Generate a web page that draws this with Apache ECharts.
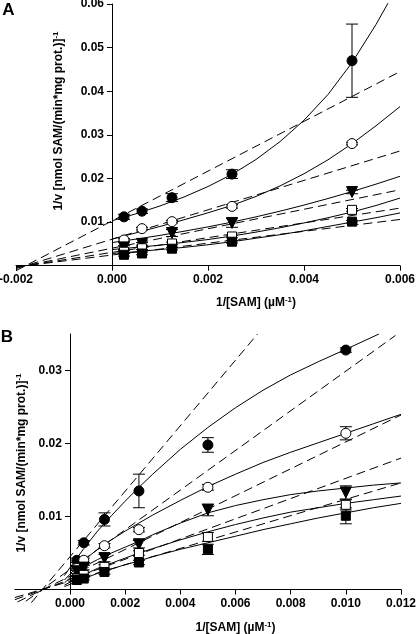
<!DOCTYPE html>
<html><head><meta charset="utf-8">
<script src="https://cdn.jsdelivr.net/npm/echarts@6/dist/echarts.min.js"></script>
<style>html,body{margin:0;padding:0;background:#fff}#c{width:416px;height:634px}</style>
</head><body><div id="c"></div>
<script>
// ---------- Panel A data ----------
const xA = [0.00025, 0.000625, 0.00125, 0.0025, 0.005];
const aFilledCircle = [0.0112, 0.0125, 0.0156, 0.0210, 0.0470];
const aFilledCircleErr = [0.0006, 0.0005, 0.0009, 0.0010, 0.0084];
const aOpenCircle = [0.0059, 0.0085, 0.0101, 0.0136, 0.0280];
const aOpenCircleErr = [0.0003, 0.0003, 0.0003, 0.0004, 0.0003];
const aTriangle = [0.0042, 0.0050, 0.0075, 0.0098, 0.0169];
const aTriangleErr = [0.0004, 0.0003, 0.0008, 0.0010, 0.0004];
const aOpenSquare = [0.0032, 0.0040, 0.0051, 0.0067, 0.0128];
const aOpenSquareErr = [0.0003, 0.0003, 0.0003, 0.0003, 0.0003];
const aFilledSquare = [0.0025, 0.0028, 0.0039, 0.0055, 0.0101];
const aFilledSquareErr = [0.0003, 0.0003, 0.0003, 0.0003, 0.0003];
// fitted curves
const aCurveX = [0, 0.0005, 0.001, 0.0015, 0.002, 0.0025, 0.003, 0.0035, 0.004, 0.0045, 0.005, 0.0055, 0.006];
const aCurveFilledCircleX = [0, 0.0005, 0.001, 0.0015, 0.002, 0.0025, 0.003, 0.0035, 0.004, 0.0045, 0.005, 0.0055, 0.00575];
const aCurveFilledCircle = [0.0103, 0.0119, 0.0137, 0.01575, 0.01815, 0.02095, 0.02435, 0.02845, 0.03335, 0.03925, 0.04655, 0.0553, 0.0602];
const aCurveOpenCircle = [0.0061, 0.00753, 0.0090, 0.01053, 0.01213, 0.01383, 0.01588, 0.01828, 0.02108, 0.02428, 0.02798, 0.03208, 0.03648];
const aCurveTriangle = [0.0053, 0.0061, 0.00695, 0.0079, 0.0089, 0.0100, 0.0112, 0.0125, 0.0139, 0.0154, 0.0170, 0.0187, 0.0205];
const aCurveOpenSquare = [0.0037, 0.0042, 0.0047, 0.00535, 0.0060, 0.0068, 0.0077, 0.0087, 0.0098, 0.0110, 0.0123, 0.0138, 0.0155];
const aCurveFilledSquare = [0.0028, 0.0032, 0.0037, 0.0042, 0.0048, 0.0055, 0.0063, 0.0071, 0.0080, 0.0090, 0.0100, 0.0110, 0.0121];
// dashed straight lines (end points)
const aDash1 = [[-0.002,-0.00114],[0.006,0.0445]];
const aDash2 = [[-0.002,-0.00067],[0.006,0.0263]];
const aDash3 = [[-0.002,-0.00045],[0.006,0.0174]];
const aDash4 = [[-0.002,-0.00034],[0.006,0.0132]];
const aDash5 = [[-0.002,-0.00027],[0.006,0.0106]];
const aXTicks = [-0.002, 0, 0.002, 0.004, 0.006];
const aYTicks = [0.01, 0.02, 0.03, 0.04, 0.05, 0.06];

// ---------- Panel B data ----------
const xB = [0.00025, 0.0005, 0.00125, 0.0025, 0.005, 0.01];
const bFilledCircle = [0.0040, 0.0064, 0.0096, 0.0135, 0.0198, 0.0328];
const bFilledCircleErr = [0.0003, 0.0003, 0.0009, 0.0023, 0.0010, 0.0003];
const bOpenCircle = [0.0029, 0.0040, 0.0060, 0.0082, 0.0140, 0.0214];
const bOpenCircleErr = [0.0003, 0.0003, 0.0003, 0.0003, 0.0004, 0.0009];
const bTriangle = [0.0025, 0.0030, 0.0043, 0.0062, 0.0109, 0.0133];
const bTriangleErr = [0.0003, 0.0003, 0.0005, 0.0005, 0.0008, 0.0009];
const bOpenSquare = [0.0015, 0.0020, 0.0031, 0.0050, 0.0072, 0.0116];
const bOpenSquareErr = [0.0003, 0.0003, 0.0003, 0.0003, 0.0006, 0.0007];
const bFilledSquare = [0.0013, 0.0015, 0.0024, 0.0037, 0.0055, 0.0101];
const bFilledSquareErr = [0.0002, 0.0002, 0.0003, 0.0003, 0.0007, 0.0011];
const bCurveX = [-0.0002, 0, 0.00025, 0.0005, 0.001, 0.0015, 0.002, 0.0025, 0.003, 0.004, 0.005, 0.006, 0.007, 0.008, 0.009, 0.010, 0.011, 0.012];
const bCurveFilledCircleX = [-0.0002, 0, 0.00025, 0.0005, 0.001, 0.0015, 0.002, 0.0025, 0.003, 0.004, 0.005, 0.006, 0.007, 0.008, 0.009, 0.010, 0.0112];
const bCurveFilledCircle = [0.0019, 0.0030, 0.0043, 0.0056, 0.0080, 0.0101, 0.0121, 0.0140, 0.0158, 0.0192, 0.0222, 0.0249, 0.0273, 0.0294, 0.0312, 0.0329, 0.0350];
const bCurveOpenCircle = [0.0013, 0.0021, 0.0031, 0.0040, 0.0055, 0.0068, 0.0080, 0.0091, 0.0102, 0.0122, 0.0141, 0.0158, 0.0174, 0.0188, 0.0201, 0.0214, 0.0227, 0.0240];
const bCurveTriangle = [0.0009, 0.0016, 0.0024, 0.0031, 0.0041, 0.0050, 0.0058, 0.0066, 0.0075, 0.0091, 0.0105, 0.0115, 0.0123, 0.0130, 0.0135, 0.0139, 0.0143, 0.0146];
const bCurveOpenSquare = [0.0006, 0.0010, 0.0015, 0.0020, 0.0029, 0.0036, 0.0043, 0.0050, 0.0056, 0.0068, 0.0079, 0.0089, 0.0098, 0.0106, 0.0112, 0.0118, 0.0123, 0.0128];
const bCurveFilledSquare = [0.0004, 0.0007, 0.0011, 0.0015, 0.0022, 0.0028, 0.0034, 0.0039, 0.0045, 0.0055, 0.0064, 0.0073, 0.0082, 0.0090, 0.0098, 0.0105, 0.0112, 0.0118];
const bDash1 = [[-0.0014,-0.0018],[0.0068,0.0350]];
const bDash2 = [[-0.0016,-0.0016],[0.0118,0.0348]];
const bDash3 = [[-0.0019,-0.0017],[0.012,0.0239]];
const bDash4 = [[-0.002,-0.0014],[0.012,0.0180]];
const bDash5 = [[-0.002,-0.0011],[0.012,0.0146]];
const bXTicks = [0, 0.002, 0.004, 0.006, 0.008, 0.010, 0.012];
const bYTicks = [0.01, 0.02, 0.03];

const FONT = 'Liberation Sans, Arial, sans-serif';
const chart = echarts.init(document.getElementById('c'), null, {renderer: 'canvas'});

const zip = (xs, ys) => xs.map((x, k) => [x, ys[k]]);

function errRender(params, api) {
  const x = api.value(0), y = api.value(1), e = api.value(2);
  const t = api.coord([x, y + e]), b = api.coord([x, y - e]);
  const hw = 6;
  const st = {stroke: '#000', lineWidth: 1};
  return {type: 'group', children: [
    {type: 'line', shape: {x1: t[0], y1: t[1], x2: b[0], y2: b[1]}, style: st},
    {type: 'line', shape: {x1: t[0] - hw, y1: t[1], x2: t[0] + hw, y2: t[1]}, style: st},
    {type: 'line', shape: {x1: b[0] - hw, y1: b[1], x2: b[0] + hw, y2: b[1]}, style: st}
  ]};
}

const markers = [
  {symbol: 'circle', size: 10, fill: '#000', rot: 0},
  {symbol: 'circle', size: 10, fill: '#fff', rot: 0},
  {symbol: 'triangle', size: 11, fill: '#000', rot: 180},
  {symbol: 'rect', size: 9, fill: '#fff', rot: 0},
  {symbol: 'rect', size: 9, fill: '#000', rot: 0}
];

const series = [];
function addPanel(idx, xs, ys, errs, curves, dashes) {
  dashes.forEach(d => series.push({
    type: 'line', xAxisIndex: idx, yAxisIndex: idx, data: d, showSymbol: false, clip: false,
    lineStyle: {color: '#000', width: 1, type: [9, 5]}, z: 2, silent: true
  }));
  curves.forEach(c => series.push({
    type: 'line', xAxisIndex: idx, yAxisIndex: idx, data: c, showSymbol: false, clip: false,
    smooth: false, lineStyle: {color: '#000', width: 1}, z: 3, silent: true
  }));
  ys.forEach((y, i) => {
    series.push({
      type: 'custom', xAxisIndex: idx, yAxisIndex: idx, renderItem: errRender, z: 4, silent: true,
      data: xs.map((x, k) => [x, y[k], errs[i][k]])
    });
    const m = markers[i];
    series.push({
      type: 'scatter', xAxisIndex: idx, yAxisIndex: idx, symbol: m.symbol, symbolSize: m.size,
      symbolRotate: m.rot, z: 5, silent: true,
      itemStyle: {color: m.fill, borderColor: '#000', borderWidth: 1, opacity: 1},
      data: zip(xs, y)
    });
  });
}

addPanel(0, xA, [aFilledCircle, aOpenCircle, aTriangle, aOpenSquare, aFilledSquare],
  [aFilledCircleErr, aOpenCircleErr, aTriangleErr, aOpenSquareErr, aFilledSquareErr],
  [zip(aCurveFilledCircleX, aCurveFilledCircle), zip(aCurveX, aCurveOpenCircle), zip(aCurveX, aCurveTriangle),
   zip(aCurveX, aCurveOpenSquare), zip(aCurveX, aCurveFilledSquare)],
  [aDash1, aDash2, aDash3, aDash4, aDash5]);
addPanel(1, xB, [bFilledCircle, bOpenCircle, bTriangle, bOpenSquare, bFilledSquare],
  [bFilledCircleErr, bOpenCircleErr, bTriangleErr, bOpenSquareErr, bFilledSquareErr],
  [zip(bCurveFilledCircleX, bCurveFilledCircle), zip(bCurveX, bCurveOpenCircle), zip(bCurveX, bCurveTriangle),
   zip(bCurveX, bCurveOpenSquare), zip(bCurveX, bCurveFilledSquare)],
  [bDash1, bDash2, bDash3, bDash4, bDash5]);

const GRIDS = [
  {left: 16, top: 4, width: 384, height: 261.7, xmin: -0.002, xmax: 0.006},
  {left: 14.8, top: 334, width: 386.2, height: 255.5, xmin: -0.002, xmax: 0.012}
];
const labelStyle = {color: '#000', fontFamily: FONT, fontWeight: 'bold', fontSize: 12};
function xAxis(grid, ticks, margin) {
  const g = GRIDS[grid];
  return {
    type: 'value', gridIndex: grid, min: g.xmin, max: g.xmax, interval: 0.002,
    splitLine: {show: false},
    axisLine: {show: true, onZero: false, lineStyle: {color: '#000', width: 1}},
    axisTick: {show: true, length: 5, lineStyle: {color: '#000'}, customValues: ticks},
    axisLabel: Object.assign({margin: margin, customValues: ticks, showMinLabel: true, showMaxLabel: true,
      formatter: v => v.toFixed(3)}, labelStyle)
  };
}
function yAxis(grid, max, ticks) {
  const g = GRIDS[grid];
  // y axis drawn at x = 0: shift it inward from the grid's left edge
  const off = -g.width * (0 - g.xmin) / (g.xmax - g.xmin);
  return {
    type: 'value', gridIndex: grid, min: 0, max: max, interval: 0.01, position: 'left', offset: off,
    splitLine: {show: false},
    axisLine: {show: true, onZero: false, lineStyle: {color: '#000', width: 1}},
    axisTick: {show: true, length: 5, lineStyle: {color: '#000'}, customValues: ticks},
    axisLabel: Object.assign({margin: 8, customValues: ticks, showMinLabel: true, showMaxLabel: true,
      formatter: v => v.toFixed(2)}, labelStyle)
  };
}

chart.setOption({
  animation: false,
  backgroundColor: '#fff',
  grid: GRIDS.map(g => ({left: g.left, top: g.top, width: g.width, height: g.height,
    containLabel: false, outerBoundsMode: 'none'})),
  xAxis: [xAxis(0, aXTicks, 8), xAxis(1, bXTicks, 8)],
  yAxis: [yAxis(0, 0.06, aYTicks), yAxis(1, 0.035, bYTicks)],
  series: series
});

// titles positioned through the axes
const rich = {
  b: {fontFamily: FONT, fontWeight: 'bold', fontSize: 12, lineHeight: 15, fill: '#000', color: '#000'},
  s: {fontFamily: FONT, fontWeight: 'bold', fontSize: 8, lineHeight: 15, padding: [0, 0, 6, 0], fill: '#000', color: '#000'}
};
const yTitle = '{b|1/v [nmol SAM/(min*mg prot.)]}{s|-1}';
const xTitle = '{b|1/[SAM] (µM}{s|-1}{b|)}';
const pA0 = chart.convertToPixel({gridIndex: 0}, [0, 0]);
const pA6 = chart.convertToPixel({gridIndex: 0}, [0.006, 0.06]);
const pB0 = chart.convertToPixel({gridIndex: 1}, [0, 0]);
const pB12 = chart.convertToPixel({gridIndex: 1}, [0.012, 0.035]);
function txt(x, y, text, rot) {
  return {type: 'text', x: x, y: y, rotation: rot || 0, silent: true,
    style: {text: text, rich: rich, align: 'center', verticalAlign: 'middle', fill: '#000'}};
}
chart.setOption({
  graphic: [
    txt((pA0[0] + pA6[0]) / 2, pA0[1] + 37, xTitle),
    txt((pB0[0] + pB12[0]) / 2, pB0[1] + 38, xTitle),
    txt(pA0[0] - 53, 121, yTitle, Math.PI / 2),
    txt(pB0[0] - 48, 463, yTitle, Math.PI / 2),
    {type: 'text', x: 8.5, y: 10, silent: true, style: {text: 'A', fontFamily: FONT, fontWeight: 'bold', fontSize: 17, fill: '#000', align: 'center', verticalAlign: 'middle'}},
    {type: 'text', x: 7, y: 337, silent: true, style: {text: 'B', fontFamily: FONT, fontWeight: 'bold', fontSize: 17, fill: '#000', align: 'center', verticalAlign: 'middle'}}
  ]
});
</script></body></html>
